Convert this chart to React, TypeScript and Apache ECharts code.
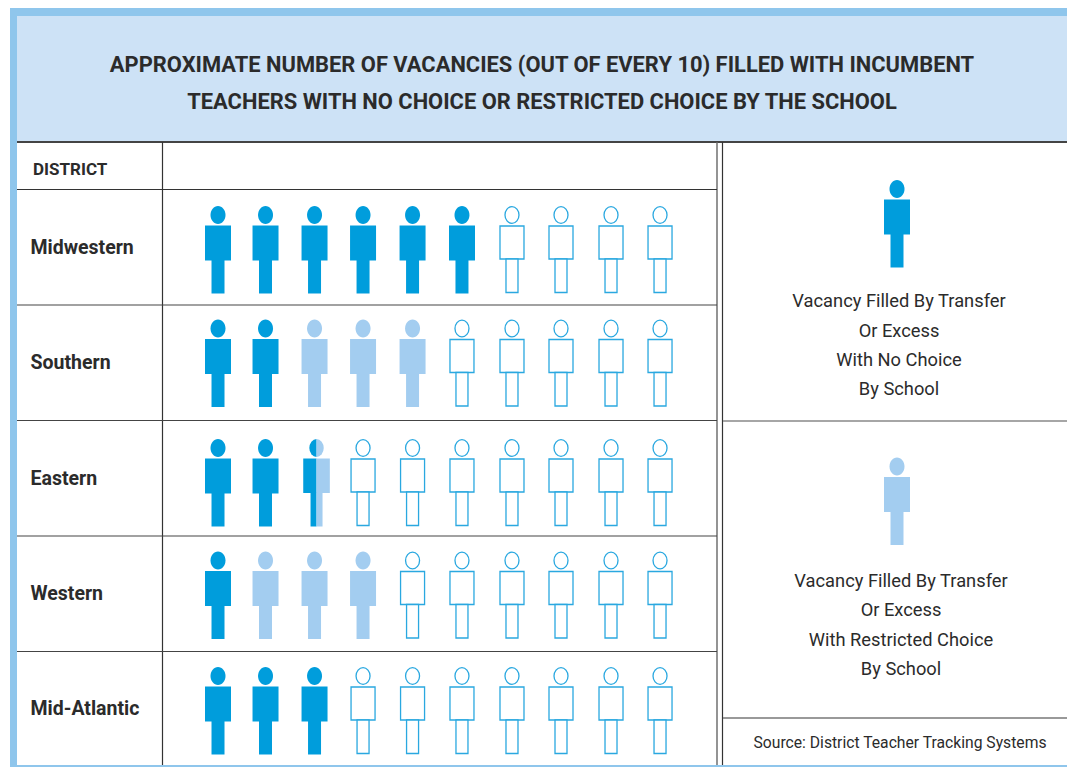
import React, { useEffect, useRef } from "react";
import * as echarts from "echarts";

const titleLines = [
  "APPROXIMATE NUMBER OF VACANCIES (OUT OF EVERY 10) FILLED WITH INCUMBENT",
  "TEACHERS WITH NO CHOICE OR RESTRICTED CHOICE BY THE SCHOOL",
];
const districts = ["Midwestern", "Southern", "Eastern", "Western", "Mid-Atlantic"];
const noChoice = [6, 2, 2.5, 1, 3];
const restricted = [0, 3, 0.5, 3, 0];
const columns = [1, 2, 3, 4, 5, 6, 7, 8, 9, 10];
const legendNoChoice = ["Vacancy Filled By Transfer", "Or Excess", "With No Choice", "By School"];
const legendRestricted = ["Vacancy Filled By Transfer", "Or Excess", "With Restricted Choice", "By School"];
const source = "Source: District Teacher Tracking Systems";

const DARK = "#009ddc";
const LIGHT = "#a3cdf0";
const OUTLINE = "#2aa8e0";
const BORDER = "#8fc6ec";
const HEADER = "#cde2f6";
const INK = "#2b2b2b";
const FONT = "Roboto, sans-serif";

// small print-alignment nudges of the original layout
const colNudge = [0, -1.6, -1.7, -2.3, -1.9, -1.6, -0.7, -0.8, 0.1, 0];
const rowNudge = [1.9, 0.2, 4.5, 1.8, 2.1];

function solidFigure(cx: number, cy: number, fill: string) {
  const style = { fill };
  return [
    { type: "ellipse", shape: { cx, cy: cy - 34.5, rx: 7.5, ry: 9 }, style },
    { type: "rect", shape: { x: cx - 13, y: cy - 24, width: 26, height: 35 }, style },
    { type: "rect", shape: { x: cx - 6.5, y: cy + 10, width: 13, height: 34 }, style },
  ];
}

function outlineFigure(cx: number, cy: number) {
  const style = { fill: "#ffffff", stroke: OUTLINE, lineWidth: 1.3 };
  return [
    { type: "ellipse", shape: { cx, cy: cy - 34.5, rx: 7, ry: 8.4 }, style },
    { type: "rect", shape: { x: cx - 12, y: cy - 23.5, width: 24, height: 33 }, style },
    { type: "rect", shape: { x: cx - 6, y: cy + 9.5, width: 12, height: 33.5 }, style },
  ];
}

function splitFigure(cx: number, cy: number) {
  const half = (fill: string, dir: number, start: number, end: number) => [
    {
      type: "sector",
      x: cx,
      y: cy - 34.5,
      scaleX: 7.2,
      scaleY: 9,
      shape: { cx: 0, cy: 0, r0: 0, r: 1, startAngle: start, endAngle: end },
      style: { fill },
    },
    {
      type: "rect",
      shape: { x: dir < 0 ? cx - 13.3 : cx, y: cy - 24, width: 13.3, height: 34.5 },
      style: { fill },
    },
    {
      type: "rect",
      shape: { x: dir < 0 ? cx - 6 : cx, y: cy + 10, width: 6, height: 34 },
      style: { fill },
    },
  ];
  return [
    ...half(DARK, -1, Math.PI / 2, (Math.PI * 3) / 2),
    ...half(LIGHT, 1, -Math.PI / 2, Math.PI / 2),
  ];
}

const cells: number[][] = [];
districts.forEach((_, r) => {
  columns.forEach((c) => {
    const dark = Math.max(0, Math.min(1, noChoice[r] - (c - 1)));
    const total = Math.max(0, Math.min(1, noChoice[r] + restricted[r] - (c - 1)));
    cells.push([c, r, dark, total - dark]);
  });
});

function line(x1: number, y1: number, x2: number, y2: number, stroke: string, lineWidth: number) {
  return { type: "line", silent: true, shape: { x1, y1, x2, y2 }, style: { stroke, lineWidth } };
}
function label(text: string, x: number, y: number, fontSize: number, fontWeight: string, align = "center") {
  return {
    type: "text",
    silent: true,
    x,
    y,
    style: { text, fontSize, fontWeight, fontFamily: FONT, fill: INK, align, verticalAlign: "middle" },
  };
}

export default function App() {
  const ref = useRef<HTMLDivElement>(null);
  useEffect(() => {
    document.body.style.margin = "0";
    const chart = echarts.init(ref.current!, undefined, { renderer: "svg" });
    const graphics: any[] = [
      // frame and header band
      { type: "rect", z: -3, silent: true, shape: { x: 10, y: 8, width: 1057, height: 759 }, style: { fill: BORDER } },
      { type: "rect", z: -2, silent: true, shape: { x: 17, y: 16, width: 1050, height: 749 }, style: { fill: "#ffffff" } },
      { type: "rect", z: -1, silent: true, shape: { x: 17, y: 16, width: 1050, height: 125 }, style: { fill: HEADER } },
      label(titleLines[0], 542, 64.4, 21.9, "bold"),
      label(titleLines[1], 542, 101.4, 21.9, "bold"),
      line(17, 142, 1067, 142, "#444444", 2),
      line(162.5, 142, 162.5, 765, "#333333", 1.2),
      line(717, 142, 717, 765, "#666666", 1.4),
      line(722.5, 142, 722.5, 765, "#333333", 1.2),
      line(17, 189.5, 717, 189.5, "#333333", 1.2),
      line(17, 305, 717, 305, "#444444", 1.2),
      line(17, 420.5, 717, 420.5, "#444444", 1.2),
      line(17, 536, 717, 536, "#444444", 1.2),
      line(17, 651.5, 717, 651.5, "#444444", 1.2),
      line(723, 421, 1067, 421, "#888888", 1.6),
      line(723, 718, 1067, 718, "#777777", 1.6),
      label("DISTRICT", 33, 169, 17, "bold", "left"),
      ...solidFigure(897, 223.5, DARK),
      ...solidFigure(897, 501, LIGHT),
      ...legendNoChoice.map((t, i) => label(t, 899, [300.4, 330.4, 359.4, 388.4][i], 18.3, "normal")),
      ...legendRestricted.map((t, i) => label(t, 901, [580.4, 609.4, 639.4, 668.4][i], 18.3, "normal")),
      label(source, 900, 742.5, 15.7, "normal"),
    ];
    chart.setOption({
      animation: false,
      backgroundColor: "#ffffff",
      tooltip: { show: false },
      graphic: graphics,
      grid: { left: 163, top: 190, width: 554, height: 576 },
      xAxis: { type: "value", min: -0.12, max: 11.16, show: false },
      yAxis: {
        type: "category",
        data: districts,
        inverse: true,
        axisLine: { show: false },
        axisTick: { show: false },
        splitLine: { show: false },
        axisLabel: {
          align: "left",
          margin: 132.5,
          padding: [2, 0, 0, 0],
          fontFamily: FONT,
          fontWeight: "bold",
          fontSize: 19.5,
          color: INK,
        },
      },
      series: [
        {
          type: "custom",
          silent: true,
          data: cells,
          encode: { x: 0, y: 1 },
          renderItem: (_p: any, api: any) => {
            const col = api.value(0) as number;
            const row = api.value(1) as number;
            const dark = api.value(2) as number;
            const light = api.value(3) as number;
            const pt = api.coord([col, row]);
            const cx = pt[0] + colNudge[col - 1];
            const cy = pt[1] + rowNudge[row];
            let children: any[];
            if (dark >= 1) children = solidFigure(cx, cy, DARK);
            else if (light >= 1) children = solidFigure(cx, cy, LIGHT);
            else if (dark > 0) children = splitFigure(cx + 2, cy);
            else children = outlineFigure(cx, cy);
            return { type: "group", children };
          },
        },
      ],
    });
    return () => chart.dispose();
  }, []);
  return <div ref={ref} style={{ width: 1067, height: 767 }} />;
}
